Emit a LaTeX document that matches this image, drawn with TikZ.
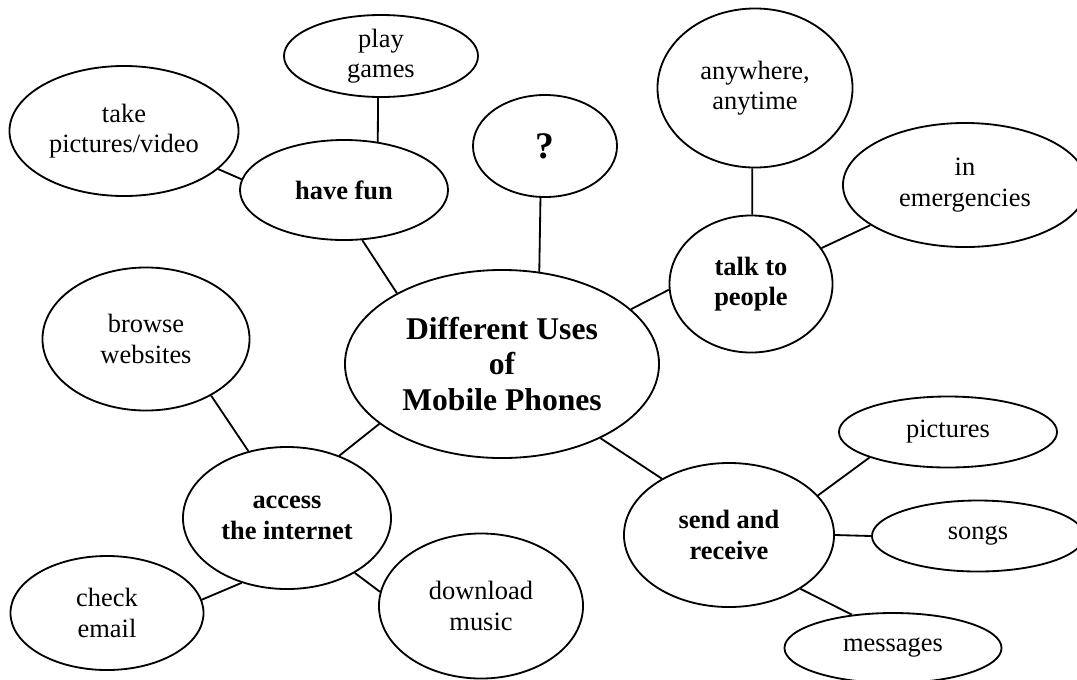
\documentclass[tikz,border=0pt]{standalone}
\usepackage{fontspec}
\setmainfont{Liberation Serif}
\usetikzlibrary{shapes.geometric}

\begin{document}
\begin{tikzpicture}[x=0.025cm, y=-0.025cm,
    bubble/.style={ellipse, draw=black, line width=1.3pt, inner sep=0pt, align=center, font=\fontsize{18.8}{21.5}\selectfont},
    hub/.style={bubble, font=\fontsize{18.8}{21.5}\selectfont\bfseries},
    link/.style={line width=1.3pt}]
    \useasboundingbox (0, 0) rectangle (1077, 679);

    \node[bubble, minimum width=7.85cm, minimum height=4.7cm, font=\fontsize{22.5}{25.2}\selectfont\bfseries] (M) at (502, 364) {Different Uses\\of\\Mobile Phones};
    \node[bubble, minimum width=3.6cm, minimum height=2.55cm, font=\fontsize{26.7}{30}\selectfont\bfseries] (Q) at (545, 146) {?};

    \node[hub, minimum width=5.2cm, minimum height=2.5cm] (F) at (344, 190) {have fun};
    \node[bubble, minimum width=4.85cm, minimum height=2.05cm] (F1) at (381, 56) {play\\games};
    \node[bubble, minimum width=5.725cm, minimum height=3.25cm] (F2) at (124, 131) {take\\pictures/video};

    \draw[link] (F.-70) -- (M.146);
    \draw[link] (F1.-94) -- (F.55);
    \draw[link] (F2.-22) -- (F.174);
    \draw[link] (Q.-95) -- (M.68);

    \node[hub, minimum width=4.075cm, minimum height=3.425cm] (T) at (751, 284) {talk to\\people};
    \node[bubble, minimum width=4.875cm, minimum height=3.975cm] (T1) at (755, 88) {anywhere,\\anytime};
    \node[bubble, minimum width=6.1cm, minimum height=3.1cm] (T2) at (965, 185) {in\\emergencies};

    \draw[link] (M.23) -- (T.184);
    \draw[link] (T1.-92) -- (T.89);
    \draw[link] (T.27) -- (T2.-157);

    \node[hub, minimum width=5.2cm, minimum height=3.55cm] (A) at (287, 518) {access\\the internet};
    \node[bubble, minimum width=5.175cm, minimum height=3.575cm] (A1) at (146, 339) {browse\\websites};
    \node[bubble, minimum width=4.825cm, minimum height=2.85cm] (A2) at (107, 613) {check\\email};
    \node[bubble, minimum width=5.1cm, minimum height=3.625cm] (A3) at (481, 606) {download\\music};

    \draw[link] (M.-154) -- (A.50);
    \draw[link] (A1.-41) -- (A.120);
    \draw[link] (A.-125) -- (A2.8);
    \draw[link] (A.-39) -- (A3.172);

    \node[hub, minimum width=5.25cm, minimum height=3.6cm] (S) at (729, 535) {send and\\receive};
    \node[bubble, minimum width=5.45cm, minimum height=1.775cm] (S1) at (948, 432) {pictures};
    \node[bubble, minimum width=5.3cm, minimum height=1.775cm] (S2) at (978, 536) {songs};
    \node[bubble, minimum width=5.425cm, minimum height=1.75cm] (S3) at (893, 648) {messages};

    \draw[link] (M.-37) -- (S.140);
    \draw[link] (S.24) -- (S1.198);
    \draw[link] (S.0) -- (S2.180);
    \draw[link] (S.-37) -- (S3.141);
\end{tikzpicture}
\end{document}
